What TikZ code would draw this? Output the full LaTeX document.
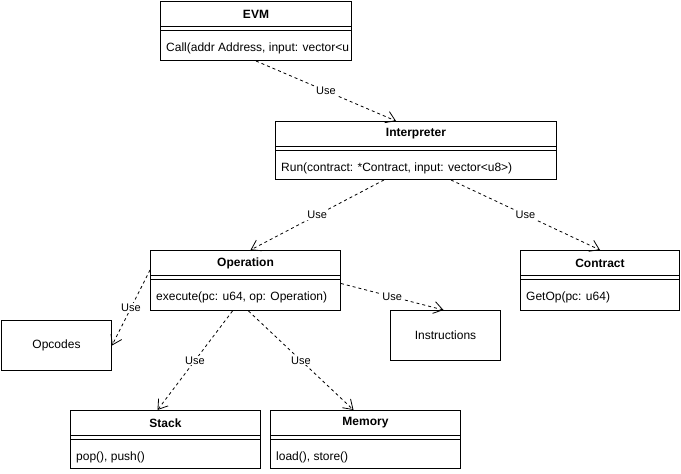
\documentclass[tikz,border=0pt]{standalone}
\usepackage{fontspec}
\setmainfont{Liberation Sans}
\usetikzlibrary{arrows.meta}
\usetikzlibrary{calc}

\begin{document}
\begin{tikzpicture}[x=1pt,y=-1pt,
	box/.style={draw,line width=1pt,anchor=north west,inner sep=0pt,font=\fontsize{12}{14}\selectfont},
	title/.style={font=\fontsize{12}{14}\selectfont\bfseries},
	member/.style={anchor=west,inner sep=0pt,font=\fontsize{12}{14}\selectfont},
	use/.style={-{Straight Barb[length=9pt,width=12pt]},dash pattern=on 3pt off 3pt,line width=0.8pt},
	lbl/.style={fill=white,inner sep=1pt,font=\fontsize{11}{13}\selectfont}]
	\useasboundingbox (0,0) rectangle (681,474);
	\foreach \cls/\px/\py/\bw/\bh/\ttl/\mem in {
		evm/160/1/191/59/EVM/{Call(addr Address, input: vector<u},
		interp/275/121/281/58/Interpreter/{Run(contract: *Contract, input: vector<u8>)},
		op/150/250/190/60/Operation/{execute(pc: u64, op: Operation)},
		contract/520/250/159/60/Contract/{GetOp(pc: u64)},
		stack/70/410/190/58/Stack/{pop(), push()},
		memory/270/410/190/58/Memory/{load(), store()}} {
		\node[box,minimum width=\bw pt,minimum height=\bh pt] (\cls) at (\px,\py) {};
		\node[title] at ($(\cls.north)+(0,13)$) {\ttl};
		\draw ($(\cls.north west)+(0,25)$) -- ($(\cls.north east)+(0,25)$);
		\draw ($(\cls.north west)+(0,29)$) -- ($(\cls.north east)+(0,29)$);
		\node[member] at ($(\cls.north west)+(6,47)$) {\mem};
	};
	\node[box,minimum width=110pt,minimum height=50pt] (opcodes) at (1,320) {Opcodes};
	\node[box,minimum width=110pt,minimum height=50pt] (instr) at (390,310) {Instructions};
	\draw[use] (evm.south) -- ($(interp.north)+(-20,0)$) node[lbl,midway] {Use};
	\draw[use] ($(interp.south)+(-32,0)$) -- ($(op.north)+(5,0)$) node[lbl,midway] {Use};
	\draw[use] ($(interp.south)+(35,0)$) -- (contract.north) node[lbl,midway] {Use};
	\draw[use] ($(op.north west)+(0,20)$) -- (opcodes.east) node[lbl,midway] {Use};
	\draw[use] ($(op.east)+(0,3)$) -- ($(instr.north)+(-2,0)$) node[lbl,midway] {Use};
	\draw[use] ($(op.south)+(-13,0)$) -- ($(stack.north)+(-8,0)$) node[lbl,midway] {Use};
	\draw[use] ($(op.south)+(3,0)$) -- ($(memory.north)+(-12,0)$) node[lbl,midway] {Use};
\end{tikzpicture}
\end{document}
